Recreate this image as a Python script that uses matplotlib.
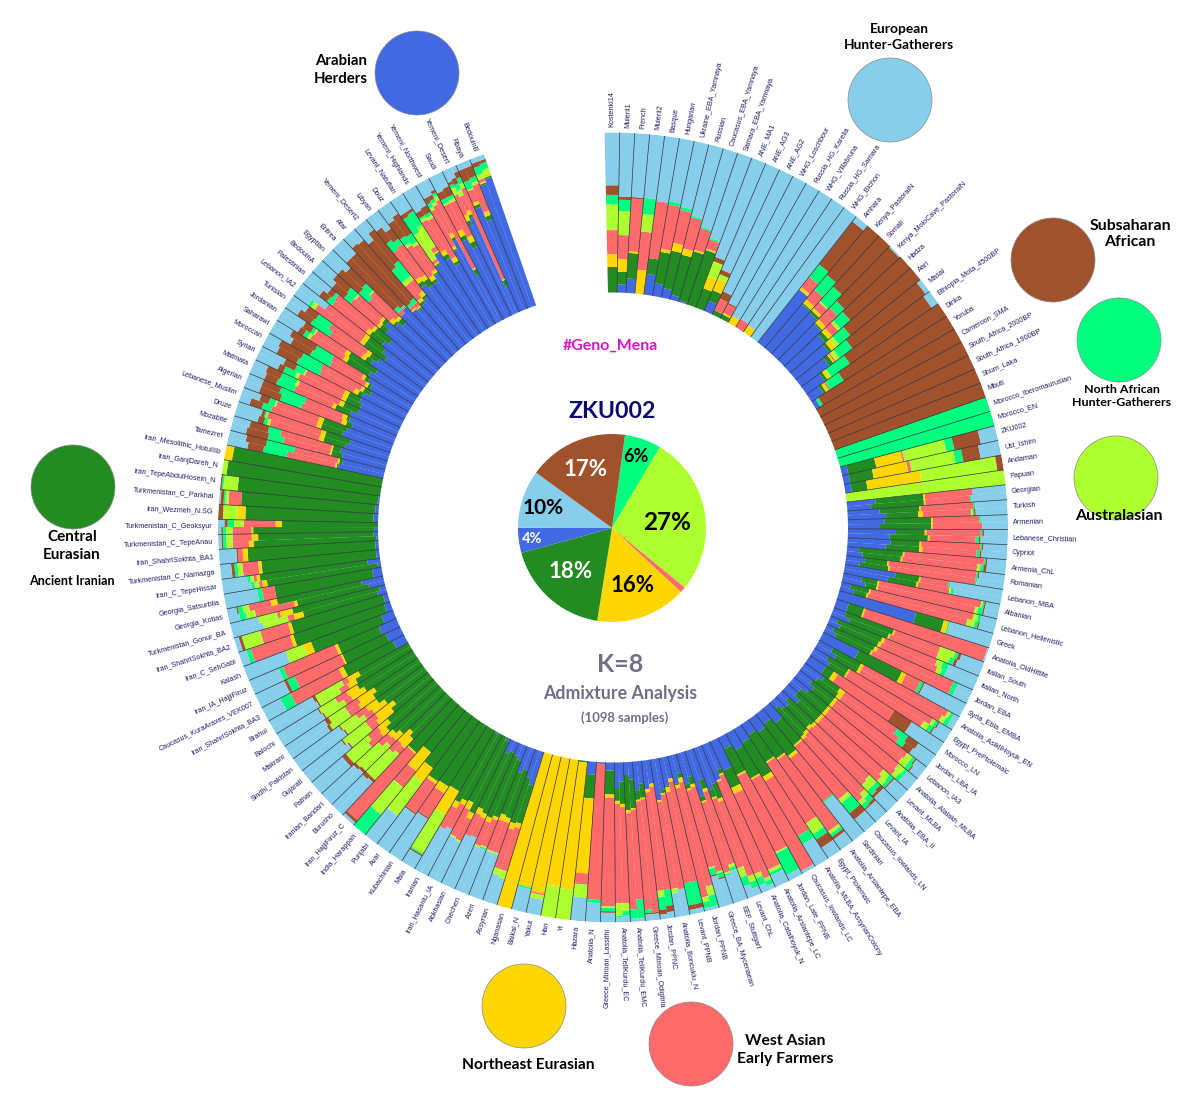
import numpy as np
import matplotlib
matplotlib.use("Agg")
import matplotlib.pyplot as plt
from matplotlib.patches import Circle

W, H = 1200, 1112
CX, CY, R_IN, R_OUT = 613, 527.5, 235, 395

components = ["Arabian", "Central Eurasian", "Northeast Eurasian", "West Asian",
              "Australasian", "North African HG", "Subsaharan", "European HG"]
colors = ["#4169E1", "#228B22", "#FFD700", "#FF6A6A", "#ADFF2F", "#00FF7F", "#A0522D", "#87CEEB"]

# each row: share of the ring in the order of `components`, inner to outer
europe_names = ["Kostenki14","Muierii1","French","Muierii2","Basque","Hungarian","Ukraine_EBA_Yamnaya","Russian",
    "Caucasus_EBA_Yamnaya","Samara_EBA_Yamnaya","ANE_MA1","ANE_AG3","ANE_AG2","WHG_Loschbour","Russia_HG_Karelia",
    "WHG_Villabruna","Russia_HG_Samara","WHG_Bichon"]
europe_rows = [[0,16,8,15,16,6,6,33],[5,8,8,15,15,7,2,40],[9,16,1,33,0,0,1,40],[0,0,15,24,11,10,0,40],
    [13,10,0,36,0,0,0,41],[8,20,2,28,0,2,0,40],[6,24,5,21,0,2,0,42],[3,26,4,20,0,1,0,46],
    [1,32,1,14,0,1,0,51],[0,36,1,6,0,1,0,56],[0,13,8,0,10,0,3,66],[7,7,8,0,3,0,3,72],
    [0,3,0,8,0,0,5,84],[0,3,1,6,0,0,1,89],[0,0,5,0,0,0,0,95],[0,0,0,6,0,0,0,94],[0,0,5,0,0,0,0,95],[0,0,0,0,0,0,0,100]]

africa_names = ["Amhara","Kenya_PastoralN","Somali","Kenya_MoloCave_PastoralN","Hadza","Aari","Masai",
    "Ethiopia_Mota_4500BP","Dinka","Yoruba","Cameroon_SMA","South_Africa_2000BP","South_Africa_1900BP","Shum_Laka","Mbuti"]
africa_rows = [[42,0,2,8,0,10,34,4],[36,1,3,8,0,12,40,0],[35,2,2,5,1,12,43,0],[32,1,3,10,0,6,47,1],
    [29,3,3,5,2,8,50,0],[27,2,3,0,3,9,56,0],[22,3,1,1,3,10,57,3],[14,2,2,0,1,14,62,5],
    [9,2,2,1,0,10,76,0],[3,0,0,0,0,2,95,0],[0,0,0,0,0,0,100,0],[0,0,0,0,0,0,100,0],
    [0,0,0,0,0,0,100,0],[0,0,0,0,0,0,100,0],[0,0,0,0,0,0,100,0]]

ancient_names = ["Morocco_Iberomaurusian","Morocco_EN","ZKU002","Ust_Ishim","Andaman","Papuan"]
ancient_rows = [[0,0,0,0,0,100,0,0],[0,0,0,0,0,100,0,0],[4,18,17,1,27,5,17,11],[4,15,22,2,28,5,11,13],
    [4,10,34,0,48,0,4,0],[0,0,0,0,100,0,0,0]]

levant_names = ["Georgian","Turkish","Armenian","Lebanese_Christian","Cypriot","Armenia_ChL","Romanian","Lebanon_MBA",
    "Albanian","Lebanon_Hellenistic","Greek","Anatolia_OldHittite","Italian_South","Italian_North","Jordan_EBA",
    "Syria_Ebla_EMBA","Anatolia_AsikliHoyuk_EN","Egypt_PrePtolemaic","Morocco_LN","Jordan_LBA_IA","Lebanon_IA3",
    "Anatolia_Alalakh_MLBA","Levant_MLBA","Anatolia_EBA_II","Levant_IA"]
levant_rows = [[18,30,1,30,0,0,0,21],[20,25,1,33,0,1,0,20],[23,29,1,29,0,1,0,17],[30,18,1,34,0,1,1,15],
    [27,18,1,37,0,1,1,15],[7,28,1,50,0,1,1,12],[12,14,1,55,0,1,1,16],[32,15,1,18,0,1,0,33],
    [12,10,1,65,1,1,1,9],[6,12,1,66,3,2,0,10],[50,18,3,0,0,1,0,28],[8,10,1,80,0,0,0,1],
    [8,32,1,30,10,2,2,15],[5,30,2,35,4,4,0,20],[5,28,2,52,0,3,0,10],[25,30,3,10,0,2,1,29],
    [10,20,2,60,2,2,0,4],[10,15,1,60,2,2,1,9],[12,6,3,42,0,0,13,24],[15,12,4,40,0,8,8,13],
    [10,18,2,55,4,2,1,8],[12,16,2,55,5,2,0,8],[8,20,2,50,5,3,1,11],[6,22,2,46,6,3,3,12],[8,20,2,50,4,4,2,10]]

farmer_names = ["Caucasus_lowlands_LN","Sardinian","Anatolia_Arslantepe_EBA","Egypt_Ptolemaic","Anatolia_MLBA_AssyrianColony",
    "Caucasus_lowlands_LC","Jordan_Late_PPNB","Anatolia_Arslantepe_LC","Anatolia_Catalhoyuk_N","Levant_ChL","EEF_Stuttgart",
    "Greece_BA_Mycenaean","Jordan_PPNB","Levant_PPNB","Anatolia_Boncuklu_N","Jordan_PPNC","Greece_Minoan_Odigitria",
    "Anatolia_TellKurdu_EMC","Anatolia_TellKurdu_EC","Greece_Minoan_Lassithi","Anatolia_N"]
farmer_rows = [[12,18,1,43,3,8,5,10],[8,25,2,34,0,1,0,30],[10,20,1,55,2,2,2,8],[8,20,1,45,8,4,6,8],
    [10,25,3,40,0,6,0,16],[12,20,1,65,0,0,0,2],[8,18,1,53,1,15,0,4],[20,12,4,52,2,2,0,8],
    [18,3,1,70,2,3,0,3],[25,10,2,50,4,4,0,5],[20,6,2,48,2,2,0,20],[16,5,2,55,1,3,1,17],
    [12,3,3,67,6,7,0,2],[14,0,2,64,0,14,3,3],[20,2,1,60,0,0,0,17],[15,0,2,65,0,10,4,4],
    [14,9,1,71,0,0,1,4],[11,18,1,56,0,12,0,2],[12,14,2,60,5,3,0,4],[5,15,2,68,1,2,1,6],[1,0,0,85,0,2,0,12]]

east_names = ["Hazara","Yi","Han","Yakut","Baikal_N","Nganasan","Assyrian","Azeri","Chechen","Abkhasian","Iran_Hasanlu_IA",
    "Iranian","Mala","Kubachinian","Avar","Punjabi","India_Harappan","Iran_HajjiFiruz_C","Burusho","Iranian_Bandari",
    "Pathan","Gujarati","Sindhi_Pakistan","Makrani","Balochi","Brahui"]
east_rows = [[8,15,47,7,8,0,0,15],[0,1,80,0,19,0,0,0],[0,0,80,0,20,0,0,0],[0,0,86,1,3,0,0,10],[0,0,84,0,0,1,0,15],
    [0,0,100,0,0,0,0,0],[22,25,3,28,5,0,0,17],[14,32,3,20,1,0,0,30],[10,38,2,18,1,1,0,30],[7,42,3,13,0,0,0,35],
    [2,50,4,15,1,0,0,28],[0,47,3,17,0,0,0,33],[0,44,17,0,28,1,1,9],[0,45,5,18,0,0,1,31],[0,46,2,22,0,0,1,29],
    [0,41,11,0,26,0,0,22],[0,34,15,13,22,16,0,0],[0,40,1,55,0,0,2,2],[0,35,8,5,22,0,2,28],[0,37,6,5,22,0,2,28],
    [0,42,5,10,15,0,3,25],[0,32,12,6,16,0,1,33],[0,32,10,6,15,0,1,36],[0,36,11,8,14,0,2,29],[0,38,10,5,15,0,1,31],
    [0,40,6,6,15,0,1,32]]

iran_names = ["Iran_ShahrISokhta_BA3","Caucasus_KuraAraxes_VEK007","Iran_IA_HajjiFiruz","Kalash","Iran_C_SehGabi",
    "Iran_ShahrISokhta_BA2","Turkmenistan_Gonur_BA","Georgia_Kotias","Georgia_Satsurblia","Iran_C_TepeHissar",
    "Turkmenistan_C_Namazga","Iran_ShahrISokhta_BA1","Turkmenistan_C_TepeAnau","Turkmenistan_C_Geoksyur","Iran_Wezmeh_N.SG",
    "Turkmenistan_C_Parkhai","Iran_TepeAbdulHosein_N","Iran_GanjDareh_N","Iran_Mesolithic_HotuIIIb"]
iran_rows = [[8,35,3,34,0,7,0,13],[10,30,1,32,0,5,2,20],[12,28,2,35,0,3,0,20],[8,47,5,0,12,0,0,28],
    [4,60,2,26,0,3,0,5],[3,60,2,18,12,0,2,3],[6,48,6,4,16,0,0,20],[10,46,2,25,6,4,0,7],
    [6,62,0,8,0,3,0,21],[2,70,3,2,3,2,0,18],[2,72,2,10,3,2,2,7],[2,80,3,3,0,0,1,11],
    [1,77,3,10,4,2,1,2],[2,76,1,12,4,2,1,2],[3,80,5,0,9,0,3,0],[2,84,0,8,2,1,2,1],
    [1,88,0,0,9,1,1,0],[0,97,0,0,3,0,0,0],[0,95,5,0,0,0,0,0]]

mena_names = ["Tamezret","Mozabite","Druze","Lebanese_Muslim","Algerian","Matmata","Syrian","Moroccan","Saharawi","Jordanian",
    "Tunisian","Lebanon_IA2","Palestinian","BedouinA","Egyptian","Eritrea","Afar","Yemeni_Desert2","Libyan","Douz",
    "Levant_Natufian","Yemeni_Highlands","Yemeni_Northwest","Saudi","Yemeni_Desert","Rbaya","BedouinB"]
mena_rows = [[29,1,1,31,0,15,10,13],[28,7,1,30,0,10,14,10],[28,14,3,32,2,2,4,15],[32,14,3,30,0,6,8,7],
    [28,4,3,27,0,14,14,10],[32,10,2,26,0,12,8,10],[28,10,3,30,2,8,4,15],[30,3,3,24,0,16,14,10],
    [28,2,2,25,0,14,14,15],[33,16,3,24,2,3,4,15],[36,4,3,24,0,14,10,9],[30,16,3,35,3,2,0,11],
    [37,10,3,27,0,4,6,13],[40,5,2,22,0,5,10,16],[38,2,3,18,0,8,18,13],[40,0,0,3,0,3,42,12],
    [37,0,1,2,0,2,50,8],[36,2,2,12,3,10,22,13],[45,3,3,22,0,7,10,10],[42,2,3,23,2,5,12,11],
    [50,1,1,2,20,12,3,11],[50,3,3,22,2,1,4,15],[52,1,2,26,2,3,4,10],[55,3,4,18,1,3,5,11],
    [62,3,4,14,5,2,2,8],[70,2,2,8,1,5,8,4],[82,1,1,2,3,5,3,3]]

# further individuals read inside the mixed populations (same order of components)
mena_more = {"Tamezret":[[27,2,1,28,0,18,13,11]],"Mozabite":[[30,5,1,33,0,8,12,11]],"Druze":[[26,16,3,35,1,1,2,16]],
    "Lebanese_Muslim":[[30,16,3,28,1,4,6,12]],"Algerian":[[31,2,3,25,0,17,12,10]],"Matmata":[[28,10,3,28,2,10,10,9]],
    "Syrian":[[30,8,3,27,1,6,8,17]],"Moroccan":[[26,5,2,28,0,14,16,9]],"Saharawi":[[31,3,2,22,0,12,18,12]],
    "Jordanian":[[30,20,3,22,1,2,6,16]],"Tunisian":[[33,6,3,28,0,10,8,12]],"Lebanon_IA2":[[34,12,3,30,0,0,0,21]],
    "Palestinian":[[34,12,2,30,0,2,4,16]],"BedouinA":[[43,3,2,20,1,6,12,13]],"Egyptian":[[35,4,2,22,1,6,14,16]],
    "Eritrea":[[42,0,0,1,0,1,44,12]],"Afar":[[35,1,1,3,0,3,48,9]],"Yemeni_Desert2":[[38,2,3,9,3,12,25,8]],
    "Libyan":[[42,5,3,24,0,4,8,14]],"Douz":[[46,1,2,19,2,6,15,9]],"Levant_Natufian":[[56,1,1,3,16,10,2,11]],
    "Yemeni_Highlands":[[44,2,3,28,2,2,5,14]],"Yemeni_Northwest":[[58,2,3,20,2,2,3,10],[32,4,1,48,3,2,2,8]],
    "Saudi":[[48,4,4,24,2,2,6,10]],"Yemeni_Desert":[[66,2,3,10,4,4,4,7],[18,4,1,62,3,4,4,4]],
    "Rbaya":[[60,3,3,18,2,3,7,4]],"BedouinB":[[85,1,2,0,3,4,2,3]]}
west_more = {"Georgian":[[15,33,1,28,0,1,0,22]],"Turkish":[[24,20,3,30,1,1,1,20]],"Armenian":[[20,32,1,31,0,0,0,16]],
    "Lebanese_Christian":[[26,24,1,29,0,2,1,17]],"Cypriot":[[24,21,2,34,0,2,1,16]],"Armenia_ChL":[[10,24,1,47,2,2,2,12]],
    "Romanian":[[9,18,1,54,0,1,0,17]],"Lebanon_MBA":[[28,18,1,20,1,2,0,30]],"Albanian":[[15,7,1,62,2,3,1,9]],
    "Lebanon_Hellenistic":[[9,8,1,64,5,2,1,10]],"Italian_South":[[12,26,1,32,8,3,2,16]],"Italian_North":[[8,26,2,38,3,3,0,20]],
    "Jordan_EBA":[[8,24,1,54,0,3,0,10]],"Anatolia_AsikliHoyuk_EN":[[14,16,2,58,3,3,0,4]],"Egypt_PrePtolemaic":[[13,12,1,56,4,3,1,10]],
    "Jordan_LBA_IA":[[12,16,3,44,0,5,6,14]],"Lebanon_IA3":[[14,14,2,54,5,3,1,7]],"Anatolia_Alalakh_MLBA":[[8,20,2,56,3,3,0,8]],
    "Levant_MLBA":[[12,16,2,52,4,2,1,11]],"Anatolia_EBA_II":[[9,18,2,48,5,4,2,12]],"Levant_IA":[[5,24,2,52,3,3,1,10]],
    "Anatolia_Catalhoyuk_N":[[24,0,1,62,3,5,0,5]],"Levant_ChL":[[28,5,1,46,6,6,0,8]],"EEF_Stuttgart":[[30,3,1,46,1,1,0,18]],
    "Greece_BA_Mycenaean":[[20,3,1,50,1,4,1,20]],"Jordan_PPNB":[[18,1,2,70,3,4,0,2]],"Levant_PPNB":[[18,1,3,58,0,14,3,3]],
    "Anatolia_Boncuklu_N":[[26,0,1,55,3,0,0,15]],"Jordan_PPNC":[[18,0,2,62,4,8,3,3]],"Greece_Minoan_Odigitria":[[18,6,1,68,0,2,1,4]],
    "Anatolia_TellKurdu_EMC":[[8,22,2,60,0,6,0,2]],"Anatolia_TellKurdu_EC":[[16,8,2,62,8,1,0,3]]}
south_more = {"Assyrian":[[18,30,4,26,4,0,0,18]],"Azeri":[[17,28,4,20,1,0,0,30]],"Chechen":[[8,42,3,16,1,0,0,30]],
    "Abkhasian":[[9,38,4,15,0,0,0,34]],"Iran_Hasanlu_IA":[[0,46,5,19,1,0,0,29]],"Iranian":[[1,49,4,15,0,0,0,31]],
    "Burusho":[[0,32,10,8,20,0,3,27]],"Iranian_Bandari":[[0,40,4,8,19,0,2,27]],"Pathan":[[0,38,8,8,18,0,3,25]],
    "Gujarati":[[0,28,14,8,18,0,1,31]],"Sindhi_Pakistan":[[0,36,8,8,12,0,1,35]],"Makrani":[[0,33,12,10,12,0,3,30]],
    "Balochi":[[0,41,8,8,12,0,1,30]],"Brahui":[[0,36,8,4,19,0,2,31]],"Turkmenistan_Gonur_BA":[[4,56,8,2,12,0,0,18]],
    "Georgia_Kotias":[[14,54,4,14,4,3,1,6]],"Iran_C_TepeHissar":[[8,68,2,2,2,2,0,16]],
    "Turkmenistan_C_Geoksyur":[[0,60,4,20,6,4,2,4]],"Turkmenistan_C_TepeAnau":[[3,72,4,12,4,2,1,2]]}

pie_values = [6.3, 27.4, 1.0, 15.6, 18.2, 4.3, 10.0, 17.2]
pie_labels = ["6%", "27%", "16%", "18%", "4%", "10%", "17%"]
pie_colors = ["#00FF7F", "#ADFF2F", "#FF6A6A", "#FFD700", "#228B22", "#4169E1", "#87CEEB", "#A0522D"]
pie_text = ["black", "black", "black", "white", "white", "black", "white"]
pie_label_x = [636, 667, 633, 571, 532, 543, 586]
pie_label_y = [457, 522, 586, 571, 539, 508, 470]
pie_label_size = [13, 17.5, 16, 16, 10.5, 15, 16]

names = europe_names + africa_names + ancient_names + levant_names + farmer_names + east_names + iran_names + mena_names
rows = europe_rows + africa_rows + ancient_rows + levant_rows + farmer_rows + east_rows + iran_rows + mena_rows
more = {**mena_more, **west_more, **south_more}

fig = plt.figure(figsize=(W / 100, H / 100), dpi=100, facecolor="white")

# ---- ring
pol = fig.add_axes([(CX - R_OUT) / W, (H - CY - R_OUT) / H, 2 * R_OUT / W, 2 * R_OUT / H], projection="polar")
pol.set_theta_zero_location("N")
pol.set_theta_direction(-1)
pol.set_rlim(0, R_OUT)
pol.axis("off")
start = np.radians(-1.2)
step = np.radians(342.1 / len(names))
bar_theta, bar_width, bar_rows = [], [], []
for i, (name, row) in enumerate(zip(names, rows)):
    samples = [row] + more.get(name, [])
    w = step / len(samples)
    for k, s in enumerate(samples):
        bar_theta.append(start + step * i + w * (k + 0.5))
        bar_width.append(w)
        bar_rows.append(s)
bar_theta = np.array(bar_theta)
bar_width = np.array(bar_width)
bar_rows = np.array(bar_rows, float)
bar_rows = bar_rows / bar_rows.sum(axis=1, keepdims=True)
base = np.full(len(bar_theta), float(R_IN))
for j, c in enumerate(colors):
    h = bar_rows[:, j] * (R_OUT - R_IN)
    pol.bar(bar_theta, h, width=bar_width * 1.02, bottom=base, color=c, linewidth=0, align="center")
    base = base + h
edges = start + step * np.arange(len(names) + 1)
for e in edges[1:-1]:
    pol.plot([e, e], [R_IN, R_OUT], color="#2F3040", lw=0.5, solid_capstyle="butt")
centers = start + step * (np.arange(len(names)) + 0.5)
for t, name in zip(centers, names):
    deg = np.degrees(t) % 360
    right = deg < 180 or deg > 350
    rot = 90 - deg if right else 270 - deg
    pol.text(t, R_OUT + 5, name, rotation=rot, rotation_mode="anchor", ha="left" if right else "right", va="center",
             fontsize=5.2, color="#1F1F66", family="Liberation Sans", clip_on=False)

# ---- overlay in picture coordinates
ov = fig.add_axes([0, 0, 1, 1], facecolor="none", zorder=5)
ov.set_xlim(0, W)
ov.set_ylim(H, 0)
ov.axis("off")
legend_x = [417, 890, 1053, 1119, 1116, 73, 524, 691]
legend_y = [73, 100, 260, 340, 478, 487, 1006, 1044]
legend_c = ["#4169E1", "#87CEEB", "#A0522D", "#00FF7F", "#ADFF2F", "#228B22", "#FFD700", "#FF6A6A"]
for x, y, c in zip(legend_x, legend_y, legend_c):
    ov.add_patch(Circle((x, y), 42, facecolor=c, edgecolor="#8a8a8a", lw=0.5))


def label(x, y, s, size, color="black", weight="bold", spacing=1.15):
    ov.text(x, y, s, fontsize=size, color=color, fontweight=weight, family="Lato",
            ha="center", va="center", linespacing=spacing)


label(341, 70, "Arabian\nHerders", 10.8, spacing=1.3)
label(899, 37, "European\nHunter-Gatherers", 9.9, spacing=1.45)
label(1130, 234, "Subsaharan\nAfrican", 11.3, spacing=1.25)
label(1122, 396, "North African\nHunter-Gatherers", 8.9, spacing=1.3)
label(1119, 516, "Australasian", 11.5)
label(72, 546, "Central\nEurasian", 11, spacing=1.3)
label(72, 581, "Ancient Iranian", 9.1)
label(528, 1065, "Northeast Eurasian", 11.2)
label(785, 1050, "West Asian\nEarly Farmers", 11.3, spacing=1.3)
label(610, 346, "#Geno_Mena", 11.4, "#E010D0")
label(612, 411, "ZKU002", 16.7, "#0A0A70")
label(620, 665, "K=8", 18, "#6F6F88")
label(620, 694, "Admixture Analysis", 12.8, "#6F6F88")
label(625, 718, "(1098 samples)", 9.4, "#6F6F88")

# ---- pie
pr = 94
pa = fig.add_axes([(612 - pr) / W, (H - 528 - pr) / H, 2 * pr / W, 2 * pr / H])
pa.pie(pie_values, colors=pie_colors, startangle=82, counterclock=False, radius=1.0)
pa.set_xlim(-1, 1)
pa.set_ylim(-1, 1)
for x, y, s, tc, sz in zip(pie_label_x, pie_label_y, pie_labels, pie_text, pie_label_size):
    label(x, y, s, sz, tc)

fig.savefig("out.png", dpi=100)
